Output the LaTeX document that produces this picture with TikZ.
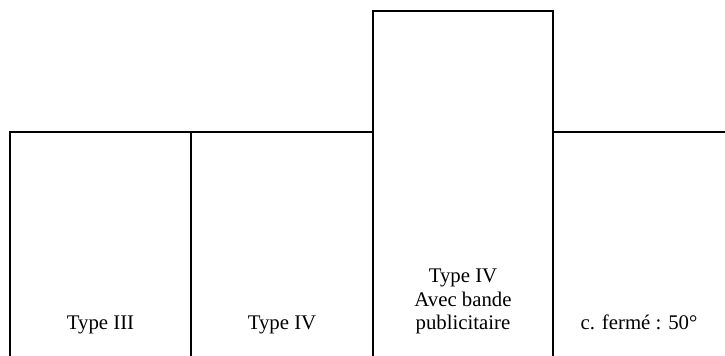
\documentclass[tikz,border=0pt]{standalone}
\usepackage{fontspec}
\setmainfont{Liberation Serif}
\begin{document}
\begin{tikzpicture}[x=0.5pt,y=-0.5pt,
  rule/.style={line width=0.9pt,black},
  cell/.style={font=\fontsize{10.4pt}{11.7pt}\selectfont,inner sep=0pt,align=center}]
\useasboundingbox (0,0) rectangle (725,356);
\draw[rule] (10,356) -- (10,132) -- (373,132) -- (373,11) -- (553,11) -- (553,132) -- (725,132);
\draw[rule] (191,132) -- (191,356);
\draw[rule] (373,132) -- (373,356);
\draw[rule] (553,132) -- (553,356);
\node[cell,anchor=base] (t3) at (100.5,330) {Type III};
\node[cell,anchor=base] (t4) at (282,330) {Type IV};
\node[cell,anchor=south] (t4b) at (463,334.6) {Type IV\\Avec bande\\publicitaire};
\node[cell,anchor=base] (cf) at (639,330) {c. fermé : 50°};
\end{tikzpicture}
\end{document}
